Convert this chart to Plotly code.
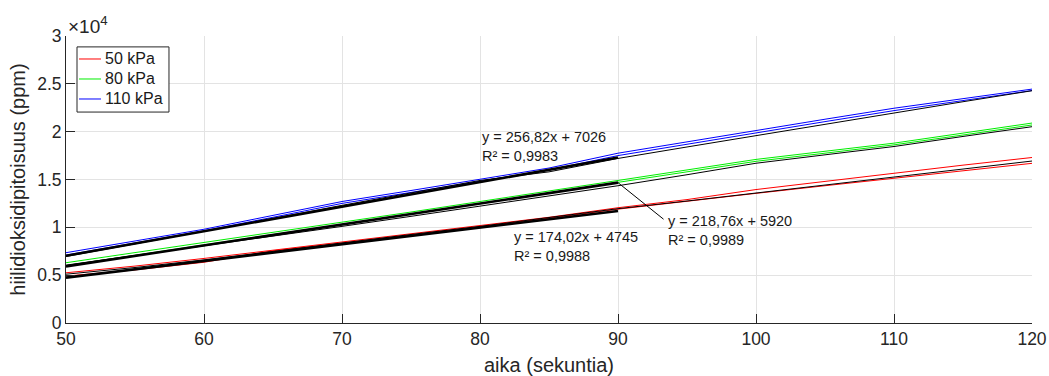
import plotly.graph_objects as go

# Measurement times (s)
aika = [50, 55, 60, 65, 70, 75, 80, 85, 90, 95, 100, 105, 110, 115, 120]

# CO2 concentration (ppm), two colored runs + reference run per pressure
p50_a = [5250, 5950, 6750, 7600, 8450, 9300, 10150, 11050, 12050, 12900, 13950, 14800, 15700, 16500, 17300]
p50_b = [4900, 5550, 6350, 7550, 8350, 9200, 10050, 10950, 11900, 12750, 13550, 14350, 15120, 15900, 16690]
p50_ref = [5100, 5800, 6600, 7500, 8400, 9250, 10100, 11000, 11950, 12750, 13600, 14450, 15300, 16100, 16930]

p80_a = [6300, 7350, 8400, 9450, 10500, 11600, 12700, 13800, 14950, 16050, 17100, 17950, 18800, 19850, 20900]
p80_b = [6000, 7100, 8200, 9250, 10300, 11400, 12500, 13600, 14750, 15850, 16900, 17750, 18620, 19650, 20700]
p80_ref = [6050, 7050, 8100, 9100, 10100, 11150, 12200, 13250, 14350, 15500, 16700, 17580, 18450, 19500, 20520]

p110_a = [7350, 8550, 9800, 11250, 12700, 13850, 15000, 16200, 17750, 18950, 20150, 21300, 22450, 23450, 24450]
p110_b = [7100, 8350, 9650, 11050, 12500, 13650, 14800, 16000, 17500, 18700, 19900, 21050, 22200, 23250, 24300]
p110_ref = [6950, 8250, 9550, 10920, 12300, 13600, 14900, 15800, 17200, 18400, 19600, 20800, 21980, 23130, 24280]

# Linear fits over 50..90 s, x measured from start of the interval
fit_start = 50
fit_end = 90
slopes = [174.02, 218.76, 256.82]
intercepts = [4745, 5920, 7026]
r2 = ["0,9988", "0,9989", "0,9983"]

labels = ["50 kPa", "80 kPa", "110 kPa"]
colors = ["#ff0000", "#00ee00", "#0000ff"]
runs_a = [p50_a, p80_a, p110_a]
runs_b = [p50_b, p80_b, p110_b]
refs = [p50_ref, p80_ref, p110_ref]

FONT = "Liberation Sans, Arial, sans-serif"
TXT = "#262626"

fig = go.Figure()

for lab, col, a, b in zip(labels, colors, runs_a, runs_b):
    fig.add_trace(go.Scatter(x=aika, y=a, mode="lines", name=lab,
                             line=dict(color=col, width=1), showlegend=False))
    fig.add_trace(go.Scatter(x=aika, y=b, mode="lines", name=lab,
                             line=dict(color=col, width=1), showlegend=False))

for ref in refs:
    fig.add_trace(go.Scatter(x=aika, y=ref, mode="lines", showlegend=False,
                             line=dict(color="black", width=1)))

for k, c in zip(slopes, intercepts):
    xs = [fit_start, fit_end]
    ys = [k * (x - fit_start) + c for x in xs]
    fig.add_trace(go.Scatter(x=xs, y=ys, mode="lines", showlegend=False,
                             line=dict(color="black", width=2.6)))

font_txt = dict(family=FONT, size=14.5, color="#1a1a1a")


def eq_text(i):
    return "y = %sx + %d<br>R² = %s" % (("%.2f" % slopes[i]).replace(".", ","), intercepts[i], r2[i])


# Equation labels
fig.add_annotation(x=80.0, y=20500, text=eq_text(2), showarrow=False,
                   xanchor="left", yanchor="top", align="left", font=font_txt)
fig.add_annotation(x=82.3, y=10000, text=eq_text(0), showarrow=False,
                   xanchor="left", yanchor="top", align="left", font=font_txt)
fig.add_annotation(x=93.5, y=11700, text=eq_text(1), showarrow=False,
                   xanchor="left", yanchor="top", align="left", font=font_txt)

# Leader line from the 80 kPa fit end to its label
fig.add_shape(type="line", x0=fit_end, y0=slopes[1] * (fit_end - fit_start) + intercepts[1],
              x1=93.3, y1=10850, line=dict(color="black", width=1))

# Exponent marker for the y axis
fig.add_annotation(xref="paper", yref="paper", x=0.0, y=1.0, xanchor="left", yanchor="bottom",
                   text="×10<sup>4</sup>", showarrow=False, yshift=-3,
                   font=dict(family=FONT, size=19, color=TXT))

# Legend box drawn in paper coordinates
fig.add_shape(type="rect", xref="paper", yref="paper", x0=0.0114, x1=0.1066, y0=0.735, y1=0.962,
              line=dict(color=TXT, width=1), fillcolor="white", layer="above")
leg_y = [0.9199, 0.8502, 0.7805]
for lab, col, yy in zip(labels, colors, leg_y):
    fig.add_shape(type="line", xref="paper", yref="paper", x0=0.0135, x1=0.0362, y0=yy, y1=yy,
                  line=dict(color=col, width=1), layer="above")
    fig.add_annotation(xref="paper", yref="paper", x=0.0385, y=yy, xanchor="left", yanchor="middle",
                       text=lab, showarrow=False, font=dict(family=FONT, size=16, color="#1a1a1a"))

axis_font = dict(family=FONT, size=17.5, color=TXT)

ytick_vals = [0, 5000, 10000, 15000, 20000, 25000, 30000]
ytick_text = ["0", "0.5", "1", "1.5", "2", "2.5", "3"]
xtick_vals = [50, 60, 70, 80, 90, 100, 110, 120]

fig.update_layout(
    width=1049, height=376,
    margin=dict(l=66, r=17, t=36, b=53),
    paper_bgcolor="white", plot_bgcolor="white",
    showlegend=False,
    xaxis=dict(range=[50, 120], tickvals=xtick_vals, showgrid=True, gridcolor="#e3e3e3",
               gridwidth=1, zeroline=False, showline=True, linecolor=TXT, linewidth=1,
               ticks="inside", ticklen=9, tickcolor=TXT, tickfont=axis_font, automargin=False,
               title=dict(text="aika (sekuntia)", font=dict(family=FONT, size=20, color=TXT),
                          standoff=14)),
    yaxis=dict(range=[0, 30000], tickvals=ytick_vals, ticktext=ytick_text, showgrid=True,
               gridcolor="#e3e3e3", gridwidth=1, zeroline=False, showline=True,
               linecolor=TXT, linewidth=1, ticks="inside", ticklen=9, tickcolor=TXT,
               tickfont=axis_font, automargin=False,
               title=dict(text="hiilidioksidipitoisuus (ppm)",
                          font=dict(family=FONT, size=20, color=TXT), standoff=6)),
)

fig.write_html("out.html")
